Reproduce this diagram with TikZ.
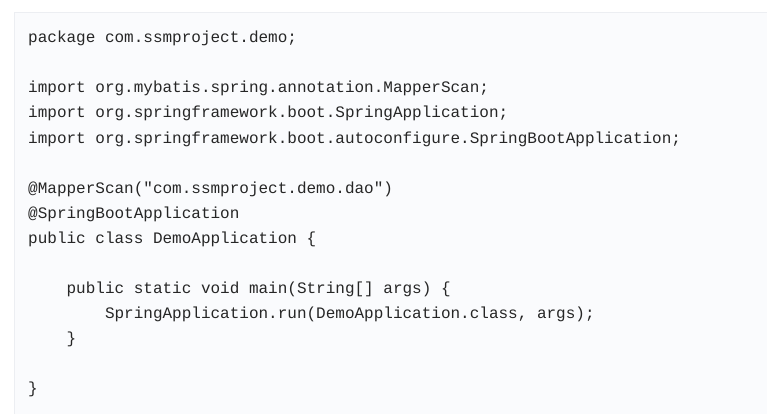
\documentclass[tikz,border=0pt]{standalone}
\usepackage{fontspec}
\setmonofont{Liberation Mono}
\begin{document}
\begin{tikzpicture}[x=1pt,y=-1pt,
  code/.style={anchor=base west,inner sep=0pt,font=\fontsize{16}{18}\ttfamily,text=black!85}]
\useasboundingbox (0,0) rectangle (767,414);
\fill[white] (0,0) rectangle (767,414);
\filldraw[fill={rgb,255:red,250;green,251;blue,253},draw={rgb,255:red,236;green,238;blue,242}] (14,12) rectangle (767,420);
\node[code] (l1) at (28,43) {package com.ssmproject.demo;};
\node[code] (l2) at (28,93) {import org.mybatis.spring.annotation.MapperScan;};
\node[code] (l3) at (28,118) {import org.springframework.boot.SpringApplication;};
\node[code] (l4) at (28,143) {import org.springframework.boot.autoconfigure.SpringBootApplication;};
\node[code] (l5) at (28,193) {@MapperScan("com.ssmproject.demo.dao")};
\node[code] (l6) at (28,218) {@SpringBootApplication};
\node[code] (l7) at (28,243) {public class DemoApplication \{};
\node[code] (l8) at (28,293) {\ \ \ \ public static void main(String[] args) \{};
\node[code] (l9) at (28,318) {\ \ \ \ \ \ \ \ SpringApplication.run(DemoApplication.class, args);};
\node[code] (l10) at (28,343) {\ \ \ \ \}};
\node[code] (l11) at (28,393) {\}};
\end{tikzpicture}
\end{document}
